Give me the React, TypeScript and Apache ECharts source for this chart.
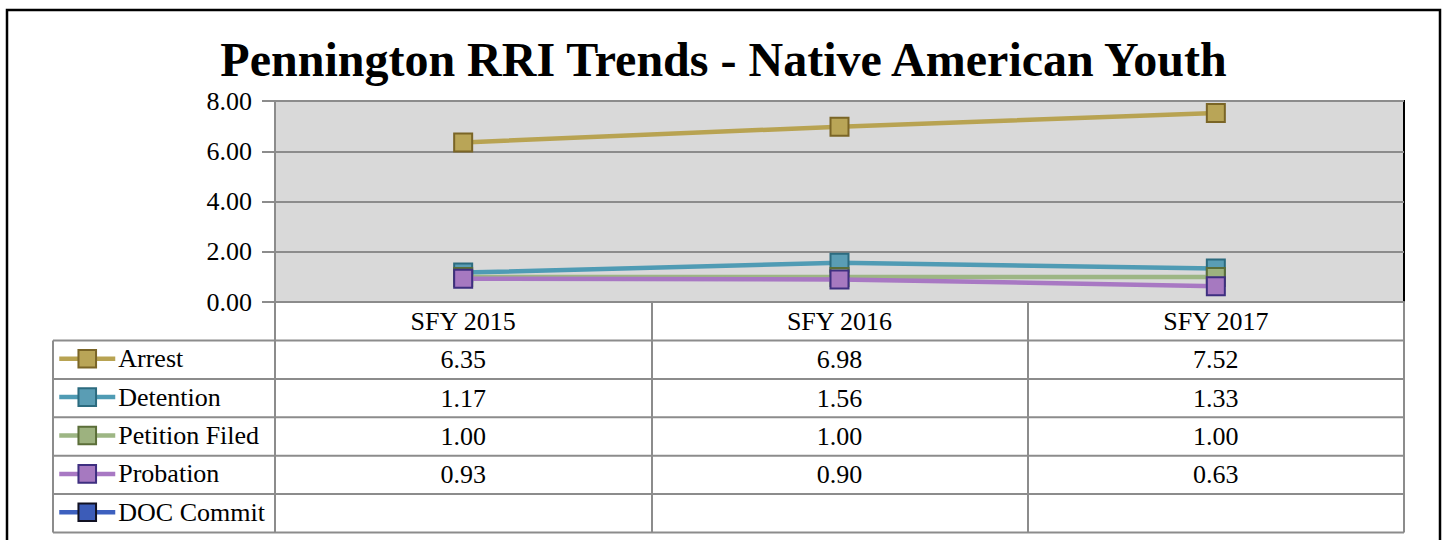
import React, { useEffect, useRef } from "react";
import * as echarts from "echarts";

const categories = ["SFY 2015", "SFY 2016", "SFY 2017"];
const seriesNames = ["Arrest", "Detention", "Petition Filed", "Probation", "DOC Commit"];
const arrest = [6.35, 6.98, 7.52];
const detention = [1.17, 1.56, 1.33];
const petitionFiled = [1.0, 1.0, 1.0];
const probation = [0.93, 0.9, 0.63];
const docCommit: (number | null)[] = [null, null, null];
const yMin = 0;
const yMax = 8;
const yInterval = 2;

const lineColors = ["#b8a352", "#4f9bb4", "#9db684", "#a878c3", "#3d60bf"];
const fillColors = ["#b9a557", "#5a9db4", "#9db27f", "#a679c0", "#3c5cb8"];
const borderColors = ["#7a6526", "#2c6b7f", "#5b6e39", "#3e2f80", "#111122"];

const FONT = "'Liberation Serif', 'Times New Roman', serif";
const GRID_LEFT = 275;
const GRID_TOP = 101;
const GRID_RIGHT_X = 1404;
const GRID_BOTTOM_Y = 302;
const TABLE_LEFT = 53;
const HEADER_BOTTOM = 340.5;
const ROW_H = 38.4;
const GRAY = "#8c8c8c";
const LEGEND_TEXT_H = 26;

export default function App() {
  const ref = useRef<HTMLDivElement>(null);
  useEffect(() => {
    document.body.style.margin = "0";
    if (!ref.current) return;
    const chart = echarts.init(ref.current, undefined, { renderer: "svg" });
    const allData = [arrest, detention, petitionFiled, probation, docCommit];
    const tableBottom = HEADER_BOTTOM + ROW_H * seriesNames.length;
    chart.setOption({
      animation: false,
      backgroundColor: "#ffffff",
      title: {
        text: "Pennington RRI Trends - Native American Youth",
        left: "center",
        top: 35,
        padding: 0,
        textStyle: { fontFamily: FONT, fontSize: 48, fontWeight: "bold", color: "#000" },
      },
      legend: {
        orient: "vertical",
        left: TABLE_LEFT + 4,
        top: HEADER_BOTTOM + ROW_H / 2 - LEGEND_TEXT_H / 2 - 1,
        padding: 0,
        itemWidth: 56,
        itemHeight: 22,
        itemGap: ROW_H - LEGEND_TEXT_H,
        lineStyle: { width: 4.5 },
        textStyle: { fontFamily: FONT, fontSize: 26, color: "#000", padding: [0, 0, 0, -2] },
        data: seriesNames,
      },
      grid: {
        left: GRID_LEFT,
        top: GRID_TOP,
        width: GRID_RIGHT_X - GRID_LEFT,
        height: GRID_BOTTOM_Y - GRID_TOP,
        show: true,
        backgroundColor: "#d9d9d9",
        borderColor: "#000",
        borderWidth: 2,
      },
      xAxis: {
        type: "category",
        data: categories,
        boundaryGap: true,
        axisLine: { lineStyle: { color: GRAY, width: 2 } },
        axisTick: {
          show: true,
          interval: 0,
          length: tableBottom - GRID_BOTTOM_Y,
          lineStyle: { color: GRAY, width: 2 },
        },
        axisLabel: { fontFamily: FONT, fontSize: 26, color: "#000", margin: 6, interval: 0 },
      },
      yAxis: {
        type: "value",
        min: yMin,
        max: yMax,
        interval: yInterval,
        axisLine: { show: true, lineStyle: { color: GRAY, width: 2 } },
        axisTick: { show: true, length: 13, lineStyle: { color: GRAY, width: 2 } },
        axisLabel: {
          fontFamily: FONT,
          fontSize: 26,
          color: "#000",
          margin: 23,
          formatter: (v: number) => v.toFixed(2),
        },
        splitLine: { lineStyle: { color: GRAY, width: 2 } },
      },
      series: seriesNames.map((name, i) => ({
        name,
        type: "line",
        data: allData[i],
        symbol: "rect",
        symbolSize: 18,
        showSymbol: true,
        lineStyle: { color: lineColors[i], width: 4.5 },
        itemStyle: { color: fillColors[i], borderColor: borderColors[i], borderWidth: 2 },
        z: 3 + i,
      })),
    });

    const centers = categories.map((c) => chart.convertToPixel({ xAxisIndex: 0 }, c) as number);
    const graphics: any[] = [];
    graphics.push({
      type: "rect",
      shape: { x: 7, y: 10, width: 1433, height: 620 },
      style: { fill: "none", stroke: "#000", lineWidth: 2.5 },
      silent: true,
    });
    for (let r = 0; r <= seriesNames.length; r++) {
      const y = HEADER_BOTTOM + ROW_H * r;
      graphics.push({
        type: "line",
        shape: { x1: TABLE_LEFT, y1: y, x2: GRID_RIGHT_X, y2: y },
        style: { stroke: GRAY, lineWidth: 2 },
        silent: true,
      });
    }
    graphics.push({
      type: "line",
      shape: { x1: TABLE_LEFT, y1: HEADER_BOTTOM, x2: TABLE_LEFT, y2: tableBottom },
      style: { stroke: GRAY, lineWidth: 2 },
      silent: true,
    });
    allData.forEach((arr, r) => {
      arr.forEach((v, c) => {
        if (v === null || v === undefined) return;
        graphics.push({
          type: "text",
          x: centers[c],
          y: HEADER_BOTTOM + ROW_H * (r + 0.5),
          style: {
            text: (v as number).toFixed(2),
            fontFamily: FONT,
            fontSize: 26,
            fill: "#000",
            align: "center",
            verticalAlign: "middle",
          },
          silent: true,
        });
      });
    });
    chart.setOption({ graphic: graphics });
    return () => chart.dispose();
  }, []);
  return <div ref={ref} style={{ width: 1447, height: 540 }} />;
}
